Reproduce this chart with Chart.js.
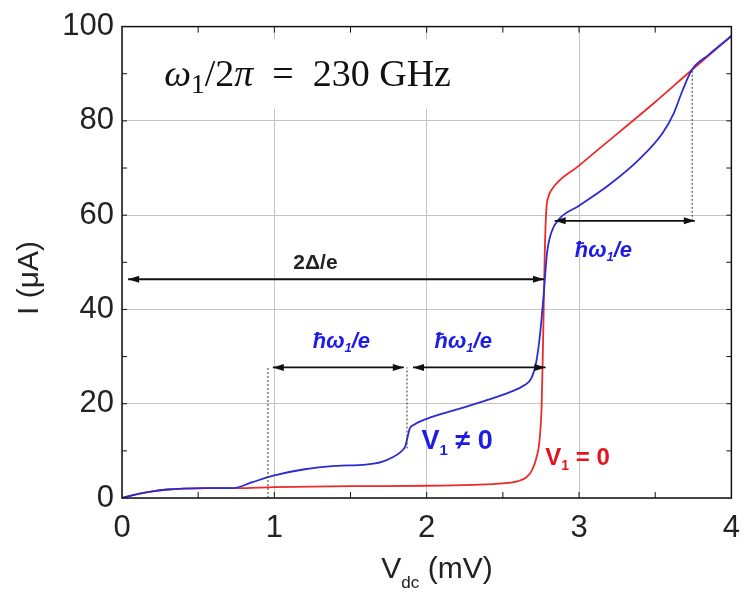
<!DOCTYPE html>
<html>
<head>
<meta charset="utf-8">
<script src="https://cdn.jsdelivr.net/npm/chart.js@4.4.1/dist/chart.umd.min.js"></script>
<style>
  html, body { margin: 0; padding: 0; background: #fff; }
  #wrap { width: 752px; height: 596px; }
</style>
</head>
<body>
<div id="wrap"><canvas id="grafico"></canvas></div>
<script>
// --- dados ---
const xTicks = [0, 1, 2, 3, 4];
const yTicks = [0, 20, 40, 60, 80, 100];

// V1 = 0 (vermelho)
const vRed = [0, 0.1, 0.2, 0.3, 0.4, 0.55, 0.75, 1.0, 1.5, 2.0, 2.3, 2.5, 2.6, 2.65, 2.69, 2.72, 2.74, 2.755, 2.765, 2.775, 2.785, 2.8, 2.82, 3.0, 3.5, 3.74, 4.0];
const iRed = [0, 0.8, 1.4, 1.8, 2.0, 2.1, 2.1, 2.3, 2.5, 2.6, 2.8, 3.1, 3.6, 4.3, 5.8, 8.5, 12, 20, 35, 52, 61, 64, 65.4, 70.5, 84, 90.8, 98];

// V1 != 0 (azul)
const vBlue = [0, 0.1, 0.2, 0.3, 0.4, 0.55, 0.73, 0.85, 1.0, 1.2, 1.4, 1.6, 1.7, 1.78, 1.83, 1.86, 1.875, 1.89, 1.92, 2.0, 2.2, 2.4, 2.55, 2.64, 2.69, 2.72, 2.745, 2.77, 2.79, 2.82, 2.87, 3.0, 3.2, 3.4, 3.55, 3.62, 3.68, 3.74, 3.85, 4.0];
const iBlue = [0, 0.8, 1.4, 1.8, 2.0, 2.1, 2.1, 3.3, 4.8, 6.1, 6.8, 7.1, 7.6, 8.7, 9.8, 11, 13, 14.8, 15.6, 16.8, 18.8, 20.8, 22.5, 23.9, 25.6, 29, 35, 44, 52, 56.5, 59.2, 62, 66.5, 72, 77.5, 81.5, 86.5, 90.8, 94, 98];

// setas horizontais [x inicio, x fim, y]
const arrows = [[0.04, 2.77, 46.4], [0.99, 1.85, 27.7], [1.91, 2.78, 27.7], [2.84, 3.76, 58.8]];
// linhas pontilhadas verticais [x, y inicio, y fim]
const guides = [[0.958, 0, 27.7], [1.871, 10.5, 27.7], [3.743, 58.8, 90.6]];

const FONT = "'Liberation Sans', Arial, sans-serif";
const SERIF = "'Liberation Serif', 'Times New Roman', serif";
const BLUE_TXT = '#1c1ce6';
const RED_TXT = '#e3141e';

const toXY = (xs, ys) => xs.map((x, k) => ({ x: x, y: ys[k] }));

const datasets = [];
guides.forEach(g => datasets.push({
    data: [{ x: g[0], y: g[1] }, { x: g[0], y: g[2] }],
    borderColor: '#333', borderWidth: 1, borderDash: [2, 2]
}));
arrows.forEach(a => datasets.push({
    data: [{ x: a[0], y: a[2] }, { x: a[1], y: a[2] }],
    borderColor: '#111', borderWidth: 1.8, arrow: true
}));
datasets.push({
    label: 'V1 != 0', data: toXY(vBlue, iBlue),
    borderColor: '#2b2bd0', borderWidth: 1.8, cubicInterpolationMode: 'monotone'
});
datasets.push({
    label: 'V1 = 0', data: toXY(vRed, iRed),
    borderColor: '#ec2a2a', borderWidth: 1.8, cubicInterpolationMode: 'monotone'
});

// desenha texto com pedaços (subscrito etc.)
function richText(ctx, runs, x, y, align) {
    let total = 0;
    runs.forEach(r => { ctx.font = r.font; total += ctx.measureText(r.t).width; });
    let cx = align === 'center' ? x - total / 2 : x;
    ctx.textAlign = 'left';
    ctx.textBaseline = 'alphabetic';
    runs.forEach(r => {
        ctx.font = r.font;
        ctx.fillStyle = r.color;
        ctx.fillText(r.t, cx, y + (r.dy || 0));
        cx += ctx.measureText(r.t).width;
    });
}

const anotacoes = {
    id: 'anotacoes',
    beforeDatasetsDraw(chart) {
        const { ctx, scales: { x, y } } = chart;
        ctx.save();
        // fundo branco do título
        ctx.fillStyle = '#fff';
        ctx.fillRect(x.getPixelForValue(0.18), y.getPixelForValue(97.3),
            x.getPixelForValue(2.16) - x.getPixelForValue(0.18),
            y.getPixelForValue(82.6) - y.getPixelForValue(97.3));
        const s = 38, c = '#111';
        richText(ctx, [
            { t: 'ω', font: `italic ${s}px ${SERIF}`, color: c },
            { t: '1', font: `${s * 0.72}px ${SERIF}`, color: c, dy: 7 },
            { t: '/2', font: `${s}px ${SERIF}`, color: c },
            { t: 'π', font: `italic ${s}px ${SERIF}`, color: c },
            { t: '  =  230 GHz', font: `${s}px ${SERIF}`, color: c }
        ], x.getPixelForValue(0.277), y.getPixelForValue(87.4), 'left');
        ctx.restore();
    },
    afterDatasetsDraw(chart) {
        const { ctx, chartArea: a, scales: { x, y } } = chart;
        ctx.save();
        // pontas das setas
        chart.data.datasets.forEach((ds, i) => {
            if (!ds.arrow) return;
            const pts = chart.getDatasetMeta(i).data;
            const p0 = pts[0], p1 = pts[1];
            ctx.fillStyle = '#111';
            [[p0, -1], [p1, 1]].forEach(([p, dir]) => {
                ctx.beginPath();
                ctx.moveTo(p.x, p.y);
                ctx.lineTo(p.x - dir * 11, p.y - 3.5);
                ctx.lineTo(p.x - dir * 11, p.y + 3.5);
                ctx.closePath();
                ctx.fill();
            });
        });
        // moldura e marcas internas
        ctx.strokeStyle = '#111';
        ctx.lineWidth = 1.5;
        ctx.strokeRect(a.left, a.top, a.right - a.left, a.bottom - a.top);
        ctx.lineWidth = 1;
        for (let v = 0.5; v < 4; v += 0.5) {
            const px = x.getPixelForValue(v);
            ctx.beginPath();
            ctx.moveTo(px, a.bottom); ctx.lineTo(px, a.bottom - 6);
            ctx.moveTo(px, a.top); ctx.lineTo(px, a.top + 6);
            ctx.stroke();
        }
        for (let v = 10; v < 100; v += 10) {
            const py = y.getPixelForValue(v);
            ctx.beginPath();
            ctx.moveTo(a.left, py); ctx.lineTo(a.left + 5, py);
            ctx.moveTo(a.right, py); ctx.lineTo(a.right - 5, py);
            ctx.stroke();
        }
        // rótulos
        const px = v => x.getPixelForValue(v), py = v => y.getPixelForValue(v);
        const hb = `italic bold 22px ${FONT}`, hs = `italic bold 13px ${FONT}`;
        const hbar = (vx, vy) => richText(ctx, [
            { t: 'ħω', font: hb, color: BLUE_TXT },
            { t: '1', font: hs, color: BLUE_TXT, dy: 4 },
            { t: '/e', font: hb, color: BLUE_TXT }
        ], px(vx), py(vy) + 8, 'center');
        hbar(1.44, 33.6);
        hbar(2.24, 33.6);
        hbar(3.16, 52.9);
        richText(ctx, [{ t: '2Δ/e', font: `bold 21px ${FONT}`, color: '#222' }], px(1.27), py(50.2) + 8, 'center');
        richText(ctx, [
            { t: 'V', font: `bold 27px ${FONT}`, color: BLUE_TXT },
            { t: '1', font: `bold 15px ${FONT}`, color: BLUE_TXT, dy: 6 },
            { t: ' ≠ 0', font: `bold 27px ${FONT}`, color: BLUE_TXT }
        ], px(2.2), py(12.6) + 10, 'center');
        richText(ctx, [
            { t: 'V', font: `bold 24px ${FONT}`, color: RED_TXT },
            { t: '1', font: `bold 14px ${FONT}`, color: RED_TXT, dy: 5 },
            { t: ' = 0', font: `bold 24px ${FONT}`, color: RED_TXT }
        ], px(2.99), py(9.0) + 9, 'center');
        // títulos dos eixos
        richText(ctx, [
            { t: 'V', font: `30px ${FONT}`, color: '#222' },
            { t: 'dc', font: `17px ${FONT}`, color: '#222', dy: 10 },
            { t: ' (mV)', font: `30px ${FONT}`, color: '#222' }
        ], 437, 578, 'center');
        ctx.translate(38, 278);
        ctx.rotate(-Math.PI / 2);
        richText(ctx, [{ t: 'I (μA)', font: `30px ${FONT}`, color: '#222' }], 0, 0, 'center');
        ctx.restore();
    }
};

new Chart(document.getElementById('grafico'), {
    type: 'line',
    data: { datasets: datasets },
    options: {
        responsive: true,
        maintainAspectRatio: false,
        animation: false,
        layout: { padding: { top: 22, right: 8, left: 0, bottom: 0 } },
        elements: { point: { radius: 0 }, line: { tension: 0 } },
        plugins: { legend: { display: false }, tooltip: { enabled: false } },
        scales: {
            x: {
                type: 'linear', min: 0, max: 4,
                afterBuildTicks: s => { s.ticks = xTicks.map(v => ({ value: v })); },
                afterFit: s => { s.height = 98; },
                grid: { color: '#c4c4c4', lineWidth: 1, drawTicks: false },
                border: { display: false },
                ticks: { color: '#222', padding: 12, font: { family: FONT, size: 31 } }
            },
            y: {
                type: 'linear', min: 0, max: 100,
                afterBuildTicks: s => { s.ticks = yTicks.map(v => ({ value: v })); },
                afterFit: s => { s.width = 122; },
                grid: { color: '#c4c4c4', lineWidth: 1, drawTicks: false },
                border: { display: false },
                ticks: { color: '#222', padding: 8, font: { family: FONT, size: 31 } }
            }
        }
    },
    plugins: [anotacoes]
});
</script>
</body>
</html>
